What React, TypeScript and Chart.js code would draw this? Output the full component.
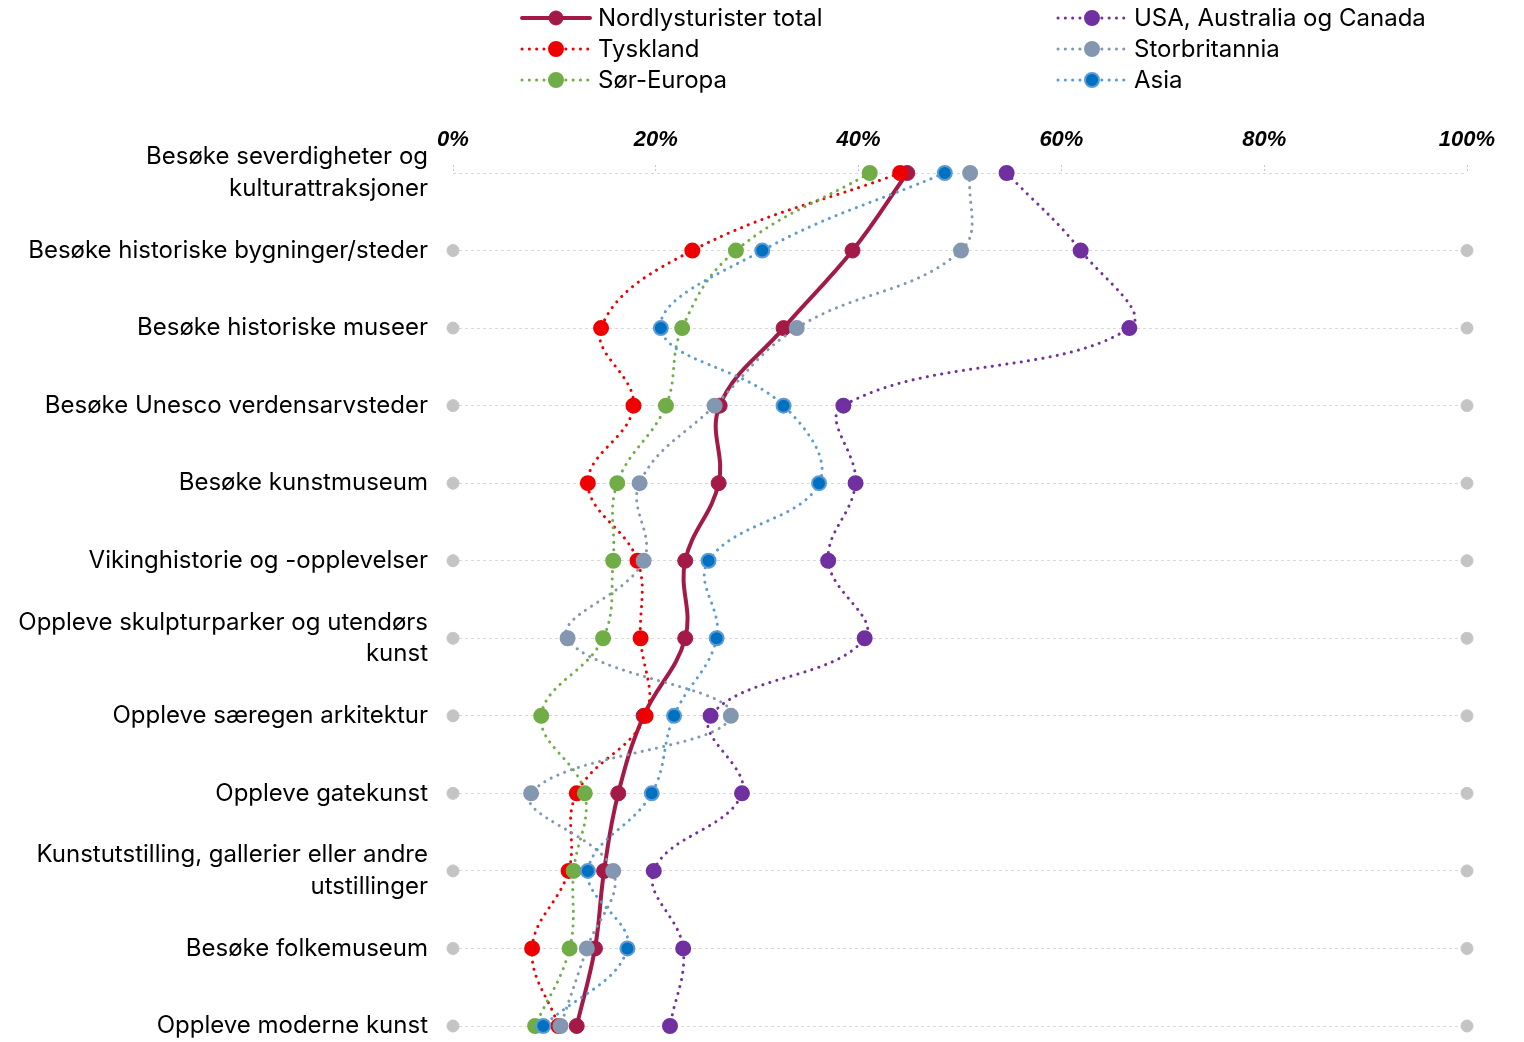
import React, { useEffect, useRef } from "react";
import { Chart, registerables } from "chart.js";

Chart.register(...registerables);

const categories: (string | string[])[] = [
  ["Besøke severdigheter og", "kulturattraksjoner"],
  "Besøke historiske bygninger/steder",
  "Besøke historiske museer",
  "Besøke Unesco verdensarvsteder",
  "Besøke kunstmuseum",
  "Vikinghistorie og -opplevelser",
  ["Oppleve skulpturparker og utendørs", "kunst"],
  "Oppleve særegen arkitektur",
  "Oppleve gatekunst",
  ["Kunstutstilling, gallerier eller andre", "utstillinger"],
  "Besøke folkemuseum",
  "Oppleve moderne kunst",
];

const totalValues = [44.8, 39.4, 32.6, 26.3, 26.2, 22.9, 22.9, 18.8, 16.3, 14.9, 14.0, 12.2];
const tysklandValues = [44.1, 23.6, 14.6, 17.8, 13.3, 18.2, 18.5, 19.0, 12.2, 11.4, 7.8, 10.4];
const sorEuropaValues = [41.1, 27.9, 22.6, 21.0, 16.2, 15.8, 14.8, 8.7, 13.0, 11.9, 11.5, 8.1];
const usaValues = [54.6, 61.9, 66.7, 38.5, 39.7, 37.0, 40.6, 25.4, 28.5, 19.8, 22.7, 21.4];
const ukValues = [51.0, 50.1, 33.9, 25.8, 18.4, 18.8, 11.3, 27.4, 7.7, 15.8, 13.2, 10.6];
const asiaValues = [48.5, 30.5, 20.5, 32.6, 36.1, 25.2, 26.0, 21.8, 19.6, 13.3, 17.2, 8.9];

const xTicks = [0, 20, 40, 60, 80, 100];
const axisMin = 0;
const axisMax = 100;

const FONT = "Inter, 'Liberation Sans', Arial, sans-serif";

const legendPlugin = {
  id: "customLegend",
  afterDraw(chart: any) {
    const ctx = chart.ctx;
    const layout = [
      { idx: 0, x: 522, y: 18 },
      { idx: 1, x: 522, y: 49 },
      { idx: 2, x: 522, y: 80 },
      { idx: 3, x: 1058, y: 18 },
      { idx: 4, x: 1058, y: 49 },
      { idx: 5, x: 1058, y: 80 },
    ];
    ctx.save();
    layout.forEach((l) => {
      const ds = chart.data.datasets[l.idx];
      const w = 68;
      ctx.beginPath();
      ctx.strokeStyle = ds.borderColor;
      ctx.lineWidth = ds.borderWidth;
      ctx.lineCap = ds.borderCapStyle || "butt";
      ctx.setLineDash(ds.borderDash || []);
      ctx.moveTo(l.x, l.y);
      ctx.lineTo(l.x + w, l.y);
      ctx.stroke();
      ctx.setLineDash([]);
      ctx.beginPath();
      ctx.arc(l.x + w / 2, l.y, 7, 0, Math.PI * 2);
      ctx.fillStyle = ds.pointBackgroundColor;
      ctx.fill();
      ctx.lineWidth = ds.pointBorderWidth;
      ctx.strokeStyle = ds.pointBorderColor;
      ctx.stroke();
      ctx.fillStyle = "#000";
      ctx.font = `24px ${FONT}`;
      ctx.textAlign = "left";
      ctx.textBaseline = "middle";
      ctx.fillText(ds.label, l.x + w + 8, l.y + 1);
    });
    ctx.restore();
  },
};

function dotted(label: string, data: number[], line: string, fill: string, border: string, order: number) {
  return {
    label,
    data,
    borderColor: line,
    borderWidth: 3,
    borderDash: [0.1, 7.2],
    borderCapStyle: "round",
    pointBackgroundColor: fill,
    pointBorderColor: border,
    pointBorderWidth: 2,
    pointRadius: 7,
    pointHoverRadius: 7,
    tension: 0.4,
    clip: false,
    order,
  };
}

export default function App() {
  const ref = useRef<HTMLCanvasElement>(null);
  useEffect(() => {
    if (!ref.current) return;
    const endLow = categories.map((_, i) => (i === 0 ? null : axisMin));
    const endHigh = categories.map((_, i) => (i === 0 ? null : axisMax));
    const chart = new Chart(ref.current, {
      type: "line",
      data: {
        labels: categories as any,
        datasets: [
          {
            label: "Nordlysturister total",
            data: totalValues,
            borderColor: "#A31A47",
            borderWidth: 4,
            borderCapStyle: "round",
            pointBackgroundColor: "#A31A47",
            pointBorderColor: "#A31A47",
            pointBorderWidth: 1,
            pointRadius: 7.5,
            pointHoverRadius: 7.5,
            tension: 0.4,
            clip: false,
            order: 6,
          } as any,
          dotted("Tyskland", tysklandValues, "#EE0000", "#EE0000", "#EE0000", 5),
          dotted("Sør-Europa", sorEuropaValues, "#70AD47", "#70AD47", "#70AD47", 4),
          dotted("USA, Australia og Canada", usaValues, "#7030A0", "#7030A0", "#7030A0", 3),
          dotted("Storbritannia", ukValues, "#8497B0", "#8497B0", "#8497B0", 2),
          dotted("Asia", asiaValues, "#5B9BD5", "#0070C0", "#5B9BD5", 1),
          {
            label: "_low",
            data: endLow,
            showLine: false,
            pointBackgroundColor: "#C4C4C4",
            pointBorderColor: "#C4C4C4",
            pointRadius: 6,
            clip: false,
            order: 10,
          } as any,
          {
            label: "_high",
            data: endHigh,
            showLine: false,
            pointBackgroundColor: "#C4C4C4",
            pointBorderColor: "#C4C4C4",
            pointRadius: 6,
            clip: false,
            order: 10,
          } as any,
        ],
      },
      options: {
        indexAxis: "y",
        animation: false,
        responsive: true,
        maintainAspectRatio: false,
        layout: { padding: { top: 113, right: 57, bottom: 16, left: 0 } },
        plugins: { legend: { display: false }, tooltip: { enabled: false } },
        scales: {
          x: {
            type: "linear",
            position: "top",
            min: axisMin,
            max: axisMax,
            afterBuildTicks: (scale: any) => {
              scale.ticks = xTicks.map((v) => ({ value: v }));
            },
            afterFit: (scale: any) => {
              scale.height = 60;
              scale.paddingLeft = 0;
              scale.paddingRight = 0;
            },
            grid: {
              drawOnChartArea: false,
              drawTicks: true,
              tickLength: 8,
              tickColor: "#C8C8C8",
              tickBorderDash: [2, 2],
              tickWidth: 1,
            },
            border: { display: false },
            ticks: {
              padding: 12,
              color: "#000",
              font: { family: "'Liberation Sans', Arial, sans-serif", size: 22, weight: "bold", style: "italic" },
              callback: (v: any) => `${v}%`,
            },
          },
          y: {
            type: "category",
            offset: false,
            afterFit: (scale: any) => {
              scale.width = 453;
              scale.paddingTop = 0;
              scale.paddingBottom = 0;
            },
            grid: {
              drawTicks: false,
              color: "#D9D9D9",
              lineWidth: 1,
            },
            border: { display: false, dash: [3, 3] },
            ticks: {
              padding: 25,
              color: "#000",
              font: { family: FONT, size: 24, lineHeight: 1.33 },
              autoSkip: false,
            },
          },
        },
      } as any,
      plugins: [legendPlugin, {
        id: "dashGrid",
        beforeDraw(chart: any) {
          const y = chart.scales.y;
          y.options.grid.borderDash = [3, 3];
        },
      }],
    });
    return () => chart.destroy();
  }, []);
  return (
    <div style={{ position: "fixed", left: 0, top: 0, width: 1524, height: 1042, background: "#fff" }}>
      <canvas ref={ref} />
    </div>
  );
}
